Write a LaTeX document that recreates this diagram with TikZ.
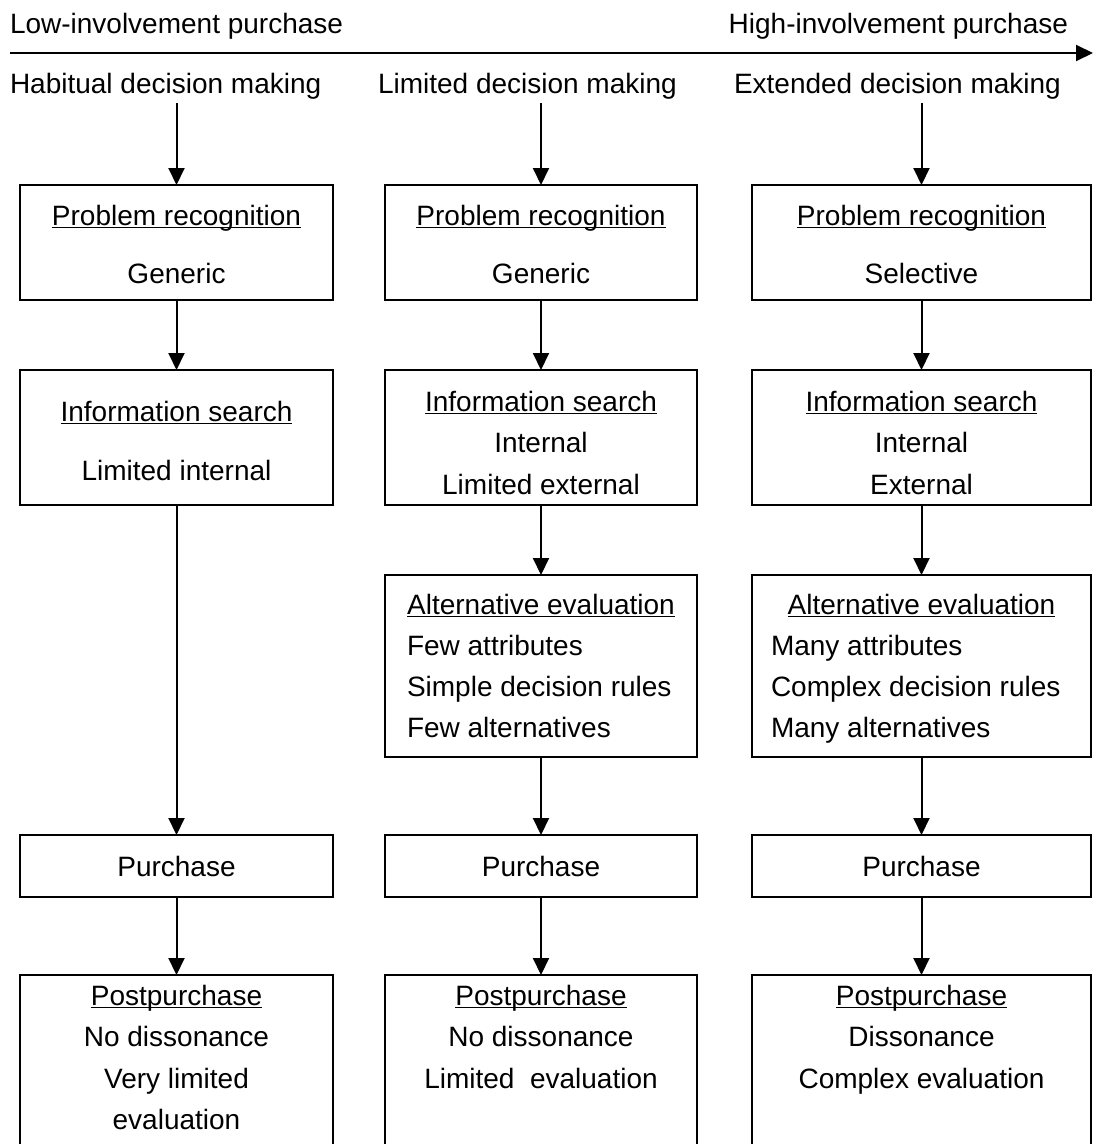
\documentclass[tikz,border=0pt]{standalone}
\usepackage{fontspec}
\setmainfont{Liberation Sans}
\usetikzlibrary{arrows.meta}
\newcommand\hdr[1]{\setbox0\hbox{#1}\rlap{\rule[-3pt]{\wd0}{1.3pt}}\box0}
\begin{document}
\begin{tikzpicture}[x=1pt,y=-1pt,
  every node/.style={font=\fontsize{28}{34}\selectfont, inner sep=0pt, outer sep=0pt},
  box/.style={draw, line width=2pt, rectangle, anchor=north west},
  txt/.style={anchor=base},
  ltxt/.style={anchor=base west},
  conn/.style={line width=2pt, -{Triangle[length=17pt,width=16pt]}}]
\useasboundingbox (0,0) rectangle (1094,1144);
\clip (0,0) rectangle (1094,1144);
% top scale
\node[ltxt] (low) at (10,33) {Low-involvement purchase};
\node[anchor=base east] (high) at (1068,33) {High-involvement purchase};
\coordinate (sa) at (10,53);
\coordinate (sb) at (1093,53);
\draw[conn] (sa) -- (sb);
% headings
\node[ltxt] (h1) at (10,93) {Habitual decision making};
\node[ltxt] (h2) at (378,93) {Limited decision making};
\node[ltxt] (h3) at (734,93) {Extended decision making};
\coordinate (s1) at (176.5,103);
\coordinate (s2) at (541,103);
\coordinate (s3) at (921.5,103);
% boxes col1
\node[box, minimum width=313pt, minimum height=115pt] (pr1) at (20,185) {};
\node[box, minimum width=313pt, minimum height=135pt] (is1) at (20,370) {};
\node[box, minimum width=313pt, minimum height=62pt] (pu1) at (20,835) {};
\node[box, minimum width=313pt, minimum height=260pt] (po1) at (20,975) {};
% boxes col2
\node[box, minimum width=312pt, minimum height=115pt] (pr2) at (385,185) {};
\node[box, minimum width=312pt, minimum height=135pt] (is2) at (385,370) {};
\node[box, minimum width=312pt, minimum height=182pt] (ae2) at (385,575) {};
\node[box, minimum width=312pt, minimum height=62pt] (pu2) at (385,835) {};
\node[box, minimum width=312pt, minimum height=260pt] (po2) at (385,975) {};
% boxes col3
\node[box, minimum width=339pt, minimum height=115pt] (pr3) at (752,185) {};
\node[box, minimum width=339pt, minimum height=135pt] (is3) at (752,370) {};
\node[box, minimum width=339pt, minimum height=182pt] (ae3) at (752,575) {};
\node[box, minimum width=339pt, minimum height=62pt] (pu3) at (752,835) {};
\node[box, minimum width=339pt, minimum height=260pt] (po3) at (752,975) {};
% texts col1
\node[txt] (t11) at (176.5,225) {\hdr{Problem recognition}};
\node[txt] (t12) at (176.5,283) {Generic};
\node[txt] (t13) at (176.5,421) {\hdr{Information search}};
\node[txt] (t14) at (176.5,480) {Limited internal};
\node[txt] (t15) at (176.5,876) {Purchase};
\node[txt] (t16) at (176.5,1005) {\hdr{Postpurchase}};
\node[txt] (t17) at (176.5,1046) {No dissonance};
\node[txt] (t18) at (176.5,1088) {Very limited};
\node[txt] (t19) at (176.5,1129) {evaluation};
% texts col2
\node[txt] (t21) at (541,225) {\hdr{Problem recognition}};
\node[txt] (t22) at (541,283) {Generic};
\node[txt] (t23) at (541,411) {\hdr{Information search}};
\node[txt] (t24) at (541,452) {Internal};
\node[txt] (t25) at (541,494) {Limited external};
\node[txt] (t26) at (541,614) {\hdr{Alternative evaluation}};
\node[ltxt] (t27) at (407,655) {Few attributes};
\node[ltxt] (t28) at (407,696) {Simple decision rules};
\node[ltxt] (t29) at (407,737) {Few alternatives};
\node[txt] (t2a) at (541,876) {Purchase};
\node[txt] (t2b) at (541,1005) {\hdr{Postpurchase}};
\node[txt] (t2c) at (541,1046) {No dissonance};
\node[txt] (t2d) at (541,1088) {Limited\ \ evaluation};
% texts col3
\node[txt] (t31) at (921.5,225) {\hdr{Problem recognition}};
\node[txt] (t32) at (921.5,283) {Selective};
\node[txt] (t33) at (921.5,411) {\hdr{Information search}};
\node[txt] (t34) at (921.5,452) {Internal};
\node[txt] (t35) at (921.5,494) {External};
\node[txt] (t36) at (921.5,614) {\hdr{Alternative evaluation}};
\node[ltxt] (t37) at (771,655) {Many attributes};
\node[ltxt] (t38) at (771,696) {Complex decision rules};
\node[ltxt] (t39) at (771,737) {Many alternatives};
\node[txt] (t3a) at (921.5,876) {Purchase};
\node[txt] (t3b) at (921.5,1005) {\hdr{Postpurchase}};
\node[txt] (t3c) at (921.5,1046) {Dissonance};
\node[txt] (t3d) at (921.5,1088) {Complex evaluation};
% connectors
\draw[conn] (s1) -- (pr1.north);
\draw[conn] (s2) -- (pr2.north);
\draw[conn] (s3) -- (pr3.north);
\draw[conn] (pr1.south) -- (is1.north);
\draw[conn] (pr2.south) -- (is2.north);
\draw[conn] (pr3.south) -- (is3.north);
\draw[conn] (is1.south) -- (pu1.north);
\draw[conn] (is2.south) -- (ae2.north);
\draw[conn] (is3.south) -- (ae3.north);
\draw[conn] (ae2.south) -- (pu2.north);
\draw[conn] (ae3.south) -- (pu3.north);
\draw[conn] (pu1.south) -- (po1.north);
\draw[conn] (pu2.south) -- (po2.north);
\draw[conn] (pu3.south) -- (po3.north);
\end{tikzpicture}
\end{document}
